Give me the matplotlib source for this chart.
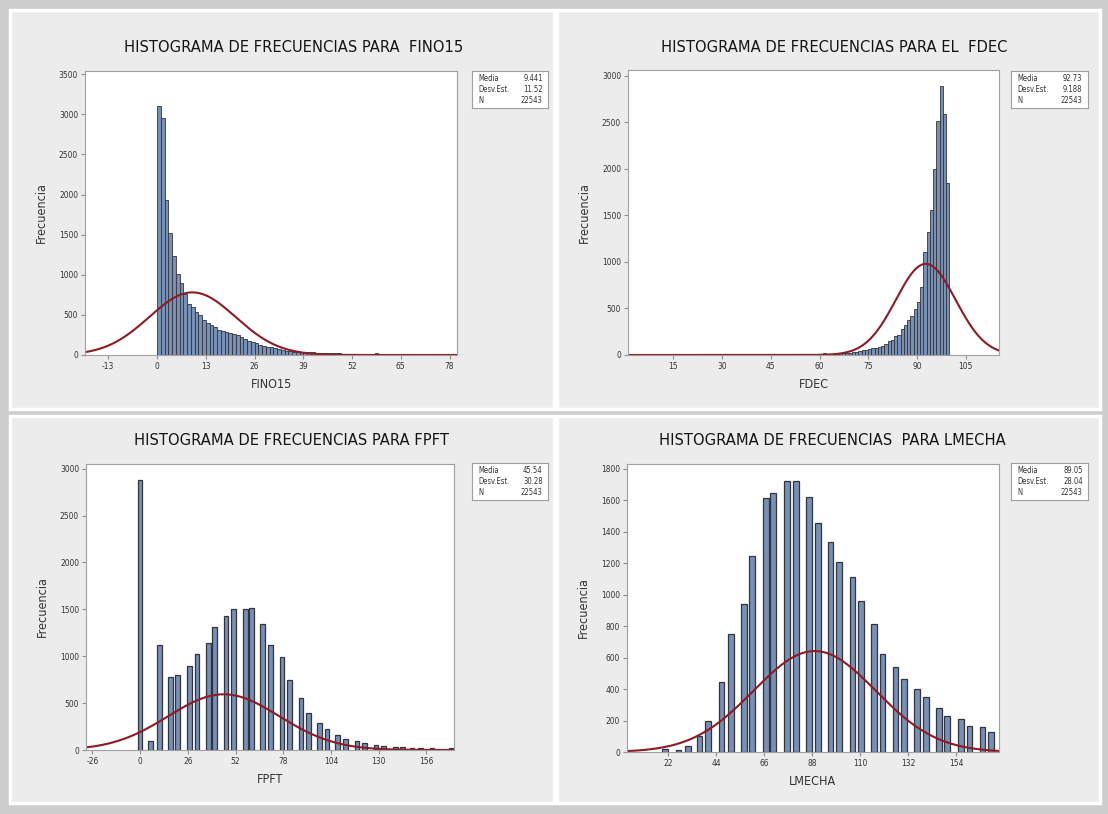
import numpy as np
import matplotlib
matplotlib.use("Agg")
import matplotlib.pyplot as plt
from matplotlib.patches import Rectangle

plt.rcParams['font.family'] = ['DejaVu Sans']
plt.rcParams['font.stretch'] = 'condensed'
plt.rcParams['axes.unicode_minus'] = False

W, H = 1108, 814

# summary stats shown in the boxes
names = ["FINO15", "FDEC", "FPFT", "LMECHA"]
titles = ["HISTOGRAMA DE FRECUENCIAS PARA  FINO15",
          "HISTOGRAMA DE FRECUENCIAS PARA EL  FDEC",
          "HISTOGRAMA DE FRECUENCIAS PARA FPFT",
          "HISTOGRAMA DE FRECUENCIAS  PARA LMECHA"]
means = [9.441, 92.73, 45.54, 89.05]
sds = [11.52, 9.188, 30.28, 28.04]
n_obs = [22543, 22543, 22543, 22543]
mean_txt = ["9.441", "92.73", "45.54", "89.05"]
sd_txt = ["11.52", "9.188", "30.28", "28.04"]
bin_w = [1, 1, 2, 2]

# FINO15, bins of width 1 starting at 0
fino_start = 0
fino_counts = [3100, 2950, 1930, 1520, 1240, 1010, 900, 760, 640, 600,
               540, 500, 440, 400, 370, 350, 310, 300, 290, 275,
               260, 250, 230, 195, 180, 160, 145, 125, 115, 105,
               100, 90, 80, 65, 55, 45, 40, 38, 35, 35,
               35, 32, 30, 30, 30, 28, 25, 20, 20, 18,
               18, 15, 15, 12, 10, 0, 0, 0, 25]

# FDEC, bins of width 1 starting at 45
fdec_start = 45
fdec_counts = [10, 0, 0, 0, 0, 0, 5, 5, 8, 8,
               8, 10, 10, 10, 12, 15, 20, 15, 12, 15,
               15, 20, 20, 25, 25, 30, 35, 40, 50, 55,
               60, 70, 80, 90, 100, 120, 150, 160, 200, 210,
               280, 320, 380, 420, 490, 570, 730, 1110, 1320, 1560,
               2000, 2510, 2890, 2590, 1850]

# FPFT, bar centres and counts
fpft_x = [0, 5.8, 10.4, 16.4, 20.5, 26.9, 30.9, 37.3, 40.4, 46.7,
          50.9, 57.3, 60.6, 66.7, 70.9, 77.3, 81.3, 87.7, 91.8, 97.8,
          101.8, 107.6, 111.8, 118.2, 122.2, 128.6, 132.7, 139.1, 142.8, 148.2,
          152.8, 159.1, 169.7]
fpft_counts = [2876, 100, 1121, 783, 800, 900, 1025, 1146, 1317, 1434,
               1502, 1502, 1516, 1342, 1121, 989, 747, 552, 391, 292,
               221, 160, 117, 92, 71, 53, 39, 36, 28, 18,
               18, 18, 18]

# LMECHA, bar centres and counts
lmecha_x = [20.5, 26.6, 30.9, 36.2, 40.3, 46.3, 50.6, 56.8, 60.3, 66.6,
            70.1, 76.3, 80.5, 86.4, 90.7, 96.4, 100.3, 106.4, 110.2, 116.3,
            120.2, 126.1, 130.1, 136.0, 140.0, 146.0, 149.9, 156.3, 160.1, 166.0,
            169.8]
lmecha_counts = [21, 10, 36, 100, 197, 446, 749, 940, 1246, 1617,
                 1643, 1723, 1723, 1620, 1456, 1337, 1206, 1112, 959, 811,
                 620, 539, 467, 399, 350, 282, 229, 210, 163, 159,
                 127]

xlims = [(-19.2, 80), (1, 115.3), (-29.5, 171), (3, 173.6)]
ylims = [(0, 3540), (0, 3060), (0, 3050), (0, 1830)]
xticks = [[-13, 0, 13, 26, 39, 52, 65, 78],
          [15, 30, 45, 60, 75, 90, 105],
          [-26, 0, 26, 52, 78, 104, 130, 156],
          [22, 44, 66, 88, 110, 132, 154]]
yticks = [range(0, 3501, 500), range(0, 3001, 500),
          range(0, 3001, 500), range(0, 1801, 200)]


def fx(x):
    return x / W


def fy(y):
    return 1 - y / H


fig = plt.figure(figsize=(W / 100, H / 100), dpi=100)
fig.patch.set_facecolor('#cdcdcd')

# panel backgrounds (pixel boxes: x0, y0, x1, y1)
panels = [(10, 10, 554, 409), (557, 10, 1100, 409),
          (10, 416, 554, 803), (557, 416, 1100, 803)]
for x0, y0, x1, y1 in panels:
    fig.patches.append(Rectangle((fx(x0), fy(y1)), fx(x1 - x0), (y1 - y0) / H,
                                 transform=fig.transFigure, facecolor='#ececec',
                                 edgecolor='white', lw=2.5, zorder=-5))

# axes boxes in pixels: x0, y0, x1, y1
axboxes = [(85, 71, 457, 355), (628, 70, 999, 355),
           (86, 464, 454, 750), (627, 464, 999, 752)]
legboxes = [(472, 71, 548, 108), (1011, 71, 1088, 108),
            (472, 463, 548, 500), (1011, 463, 1088, 500)]
title_pos = [(294, 47), (834, 47), (291, 441), (832, 441)]

bar_face = '#7790b6'
bar_edge = '#34343c'

for i in range(4):
    x0, y0, x1, y1 = axboxes[i]
    ax = fig.add_axes([fx(x0), fy(y1), fx(x1 - x0), (y1 - y0) / H])
    ax.set_facecolor('white')

    if i == 0:
        lefts = fino_start + np.arange(len(fino_counts)) * bin_w[0]
        ax.bar(lefts, fino_counts, width=bin_w[0], align='edge',
               color=bar_face, edgecolor=bar_edge, linewidth=0.6)
    elif i == 1:
        lefts = fdec_start + np.arange(len(fdec_counts)) * bin_w[1]
        ax.bar(lefts, fdec_counts, width=bin_w[1], align='edge',
               color=bar_face, edgecolor=bar_edge, linewidth=0.6)
    elif i == 2:
        ax.bar(fpft_x, fpft_counts, width=2.5,
               color=bar_face, edgecolor=bar_edge, linewidth=0.9)
    else:
        ax.bar(lmecha_x, lmecha_counts, width=2.6,
               color=bar_face, edgecolor=bar_edge, linewidth=0.9)

    # fitted normal curve
    xs = np.linspace(xlims[i][0], xlims[i][1], 400)
    ys = n_obs[i] * bin_w[i] * np.exp(-0.5 * ((xs - means[i]) / sds[i]) ** 2) / (sds[i] * np.sqrt(2 * np.pi))
    ax.plot(xs, ys, color='#8e1b24', lw=1.5)

    ax.set_xlim(xlims[i])
    ax.set_ylim(ylims[i])
    ax.set_xticks(xticks[i])
    ax.set_yticks(list(yticks[i]))
    ax.tick_params(labelsize=6, length=3, color='#909090', labelcolor='#333333', pad=2)
    for s in ax.spines.values():
        s.set_color('#a0a0a0')
    ax.set_xlabel(names[i], fontsize=9, color='#333333', labelpad=5)
    ax.set_ylabel("Frecuencia", fontsize=9, color='#333333', labelpad=8)

    fig.text(fx(title_pos[i][0]), fy(title_pos[i][1]), titles[i],
             ha='center', va='center', fontsize=11.8, color='#141414')

    # stats box
    lx0, ly0, lx1, ly1 = legboxes[i]
    lax = fig.add_axes([fx(lx0), fy(ly1), fx(lx1 - lx0), (ly1 - ly0) / H])
    lax.set_xticks([])
    lax.set_yticks([])
    for s in lax.spines.values():
        s.set_color('#a0a0a0')
    rows = [("Media", mean_txt[i]), ("Desv.Est.", sd_txt[i]), ("N", str(n_obs[i]))]
    for r, (lab, val) in enumerate(rows):
        yy = 0.8 - r * 0.3
        lax.text(0.08, yy, lab, fontsize=5.5, va='center', ha='left', color='#333333')
        lax.text(0.93, yy, val, fontsize=5.5, va='center', ha='right', color='#333333')

fig.savefig("out.png", dpi=100, facecolor=fig.get_facecolor())
